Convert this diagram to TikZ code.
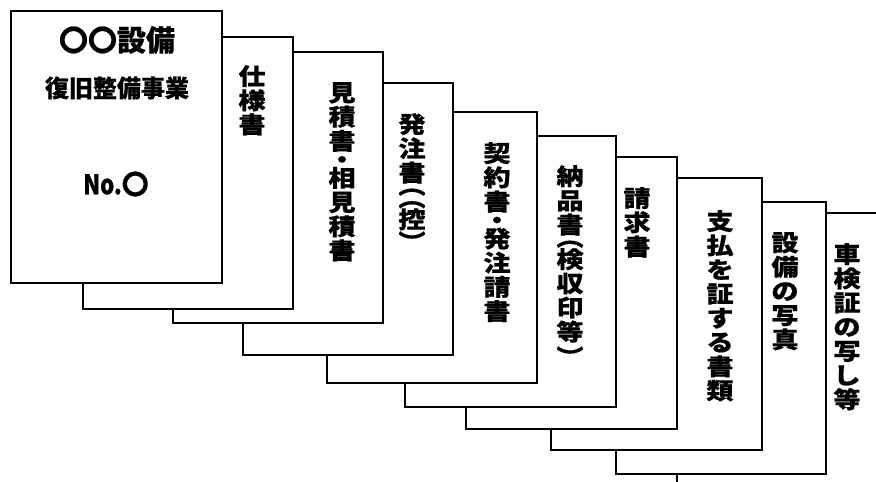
\documentclass[tikz,border=0pt]{standalone}
\usepackage{fontspec}
\setmainfont{Noto Sans CJK JP}[BoldFeatures={FakeBold=0.6}]
\newfontfamily\jpv{Noto Sans CJK JP}[BoldFeatures={FakeStretch=1.18,FakeBold=0.6}]
\newfontfamily\jpn{Noto Sans CJK JP}[BoldFeatures={FakeStretch=0.82,FakeBold=0.6}]
\begin{document}
\begin{tikzpicture}[x=1pt,y=-1pt,
  sheet/.style={draw=black,fill=white,line width=1.4pt},
  vtext/.style={anchor=north,inner sep=0pt,align=center,
    font=\jpv\bfseries\fontsize{23}{24.2}\selectfont},
  ttl/.style={inner sep=0pt,font=\bfseries}]
\useasboundingbox (0,0) rectangle (876,482);
\clip (0,0) rectangle (876,482);
% sheets, back to front
\draw[sheet] (677,213) rectangle (890,495);
\draw[sheet] (616,202) rectangle (826,474);
\draw[sheet] (551,178) rectangle (762,450);
\draw[sheet] (466,157) rectangle (677,429);
\draw[sheet] (405,136) rectangle (616,407);
\draw[sheet] (327,112) rectangle (537,383);
\draw[sheet] (243,83) rectangle (453,355);
\draw[sheet] (173,52) rectangle (383,323);
\draw[sheet] (83,37) rectangle (293,309);
\draw[sheet] (11,11) rectangle (222,283);
% cover texts
\node[ttl,font=\bfseries\fontsize{29}{30}\selectfont] (t1) at (117,40) {〇〇設備};
\node[ttl,font=\bfseries\fontsize{24}{25}\selectfont] (t2) at (117,88) {復旧整備事業};
\node[ttl,font=\bfseries\fontsize{27}{28}\selectfont] (t3) at (116,184) {{\jpn No.}〇};
% vertical texts
\node[vtext] (s2) at (252,65) {仕\\様\\書};
\node[vtext] (s3) at (342,82) {見\\積\\書\\[-5.7pt]・\\[-5.7pt]相\\見\\積\\書};
\node[vtext] (s4) at (412,113) {発\\注\\書\\[-11.4pt]︵\\[-11.7pt]︵\\[-2.7pt]控\\[-1.6pt]︶};
\node[vtext] (s5) at (497,142) {契\\約\\書\\[-5.7pt]・\\[-5.7pt]発\\注\\請\\書};
\node[vtext] (s6) at (570,165) {納\\品\\書\\[-11.4pt]︵\\[-2.4pt]検\\収\\印\\等\\[1pt]︶};
\node[vtext] (s7) at (637,187) {請\\求\\書};
\node[vtext] (s8) at (720,210) {支\\払\\を\\証\\す\\る\\書\\類};
\node[vtext] (s9) at (785,232) {設\\備\\の\\写\\真};
\node[vtext] (s10) at (847,243) {車\\検\\証\\の\\写\\し\\等};
\end{tikzpicture}
\end{document}
